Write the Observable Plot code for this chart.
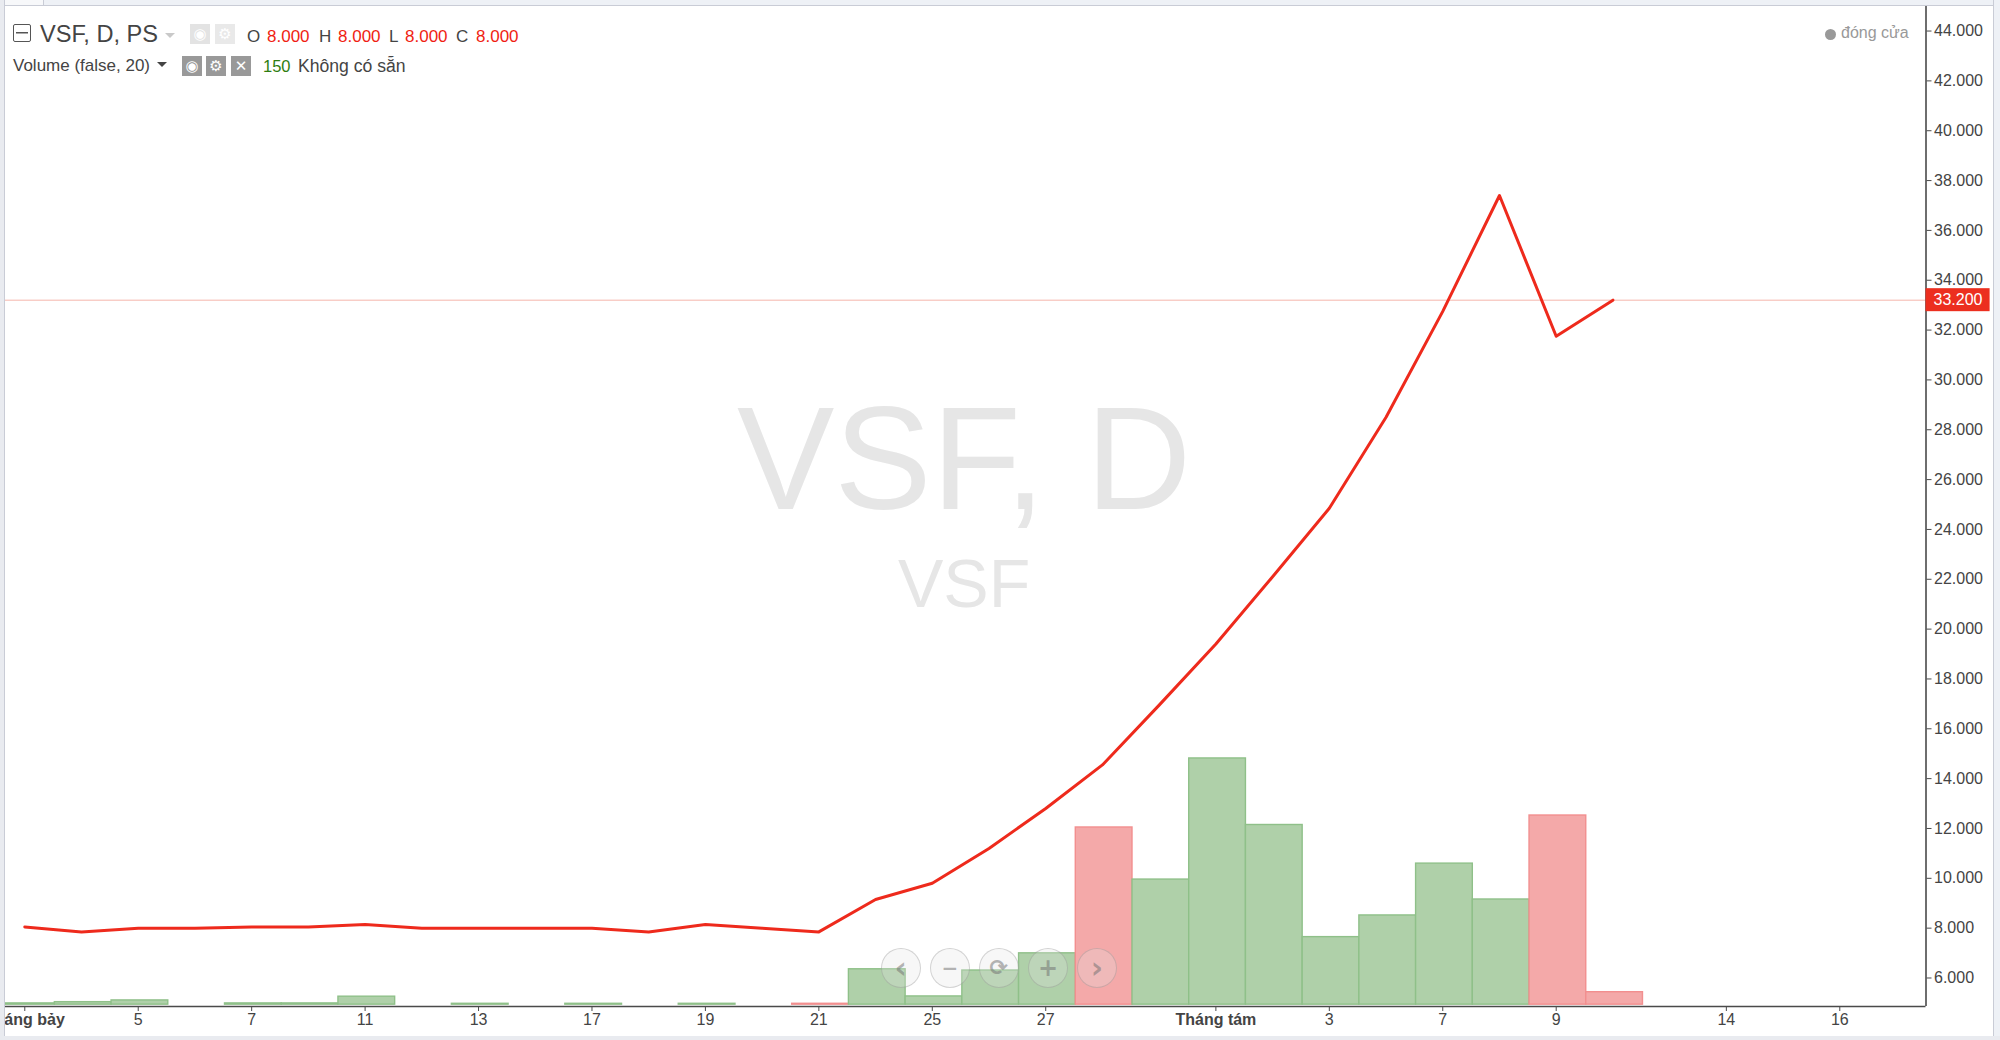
<!DOCTYPE html>
<html lang="vi">
<head>
<meta charset="utf-8">
<script src="https://cdn.jsdelivr.net/npm/d3@7"></script>
<script src="https://cdn.jsdelivr.net/npm/@observablehq/plot@0.6"></script>
<style>
html,body{margin:0;padding:0;background:#fff;overflow:hidden;width:2000px;height:1040px;font-family:"Liberation Sans",Arial,sans-serif}
#stage{position:relative;width:2000px;height:1040px;background:#fff;overflow:hidden}
#chart{position:absolute;left:0;top:0}
.o{position:absolute;white-space:nowrap;line-height:1;transform:translateY(-50%)}
.f{position:absolute}
.ic{position:absolute;display:flex;align-items:center;justify-content:center;color:#fff;font-family:"DejaVu Sans";font-size:15px;line-height:1}
.nav{position:absolute;width:38px;height:38px;border-radius:50%;border:1.5px solid rgba(120,120,120,.28);background:rgba(225,225,225,.28);color:rgba(110,110,110,.5);display:flex;align-items:center;justify-content:center;font-family:"DejaVu Sans";font-weight:bold;line-height:1;transform:translate(-50%,-50%)}
</style>
</head>
<body>
<div id="stage"><div id="chart"></div></div>
<script>
// Trading sessions, by position on the time axis
const sessions = d3.range(0, 29);
const closePrices = [8050,7850,8000,8000,8050,8050,8150,8000,8000,8000,8000,7850,8150,8000,7850,9150,9800,11200,12800,14550,16950,19400,22100,24850,28500,32750,37400,31750,33200];
// Volume bars: the level each bar top reaches on the right-hand axis (no volume axis is shown)
const volumeIndex = [0,1,2,4,5,6,8,10,12,14,15,16,17,18,19,20,21,22,23,24,25,26,27,28];
const volumeTop = [4980,5030,5100,4980,4980,5250,4965,4965,4965,4965,6350,5260,6300,6990,12040,9950,14810,12140,7640,8510,10590,9150,12520,5430];
const volumeDown = [14,19,27,28];
const volumeBase = 4930;
// Axis labels
const priceTicks = [6000,8000,10000,12000,14000,16000,18000,20000,22000,24000,26000,28000,30000,32000,34000,36000,38000,40000,42000,44000];
const dayTickIndex = [2,4,6,8,10,12,14,16,18,23,25,27,30,32];
const dayTickLabels = ["5","7","11","13","17","19","21","25","27","3","7","9","14","16"];
const monthTickIndex = [0,21];
const monthTickLabels = ["Tháng bảy","Tháng tám"];
const lastPrice = 33200;
const xDomain = [-0.34, 33.52];
const yDomain = [4856, 44985];

const bars = volumeIndex.map((s,k)=>({s, top:volumeTop[k], down:volumeDown.includes(s)}));
const line = sessions.map(s=>({s, c:closePrices[s]}));
const fmtPrice = v => d3.format(",.0f")(v).replace(",",".");
const lookup = (idx,lab) => v => lab[idx.indexOf(v)];
const axisCol = "#4a4a4a";

const plot = Plot.plot({
  width:2000, height:1040,
  marginLeft:5, marginRight:74.5, marginTop:6, marginBottom:34,
  style:{background:"transparent",fontFamily:"'Liberation Sans',Arial,sans-serif",fontSize:"16px",overflow:"hidden"},
  x:{domain:xDomain, range:[5,1925.5]},
  y:{domain:yDomain, range:[1006,6]},
  marks:[
    Plot.text(["VSF, D"],{x:[16.56],y:[26700],text:d=>d,fontSize:146,fill:"#e6e6e6",lineAnchor:"middle"}),
    Plot.text(["VSF"],{x:[16.56],y:[21750],text:d=>d,fontSize:68,fill:"#e6e6e6",lineAnchor:"middle"}),
    Plot.ruleY([lastPrice],{stroke:"#f5b5ab",strokeWidth:1}),
    Plot.rect(bars,{x1:d=>d.s-0.5,x2:d=>d.s+0.5,y1:volumeBase,y2:"top",dx:1.7,
      fill:d=>d.down?"#f4a9a9":"#afd0a9",
      stroke:d=>d.down?"#f28f8f":"#8fc089",strokeWidth:1.4}),
    Plot.line(line,{x:"s",y:"c",stroke:"#ee2a1c",strokeWidth:3,curve:"linear"}),
    Plot.ruleX([xDomain[1]],{stroke:axisCol,strokeWidth:1.6}),
    Plot.ruleY([yDomain[0]],{stroke:axisCol,strokeWidth:1.6}),
    Plot.axisY({anchor:"right",ticks:priceTicks,tickFormat:fmtPrice,tickSize:5,tickPadding:3,label:null,stroke:axisCol,fill:"#444",fontSize:16}),
    Plot.axisX({anchor:"bottom",ticks:dayTickIndex,tickFormat:lookup(dayTickIndex,dayTickLabels),tickSize:5,tickPadding:2,label:null,stroke:axisCol,fill:"#444",fontSize:16}),
    Plot.axisX({anchor:"bottom",ticks:monthTickIndex,tickFormat:lookup(monthTickIndex,monthTickLabels),tickSize:5,tickPadding:2,label:null,stroke:axisCol,fill:"#444",fontSize:16,fontWeight:"bold"}),
    Plot.rect([lastPrice],{x1:xDomain[1],x2:34.65,y1:d=>d,y2:d=>d,insetTop:-11.5,insetBottom:-11.5,fill:"#ec2f1f"}),
    Plot.text([lastPrice],{x:xDomain[1],y:d=>d,text:fmtPrice,dx:7.5,textAnchor:"start",fill:"#fff",fontSize:16})
  ]
});
document.getElementById("chart").appendChild(plot);

// Overlaid chrome: header lines, legend, navigation buttons and page frame
const stage = document.getElementById("stage");
function t(x,y,s,size,color,extra){const e=document.createElement("div");e.className="o";e.style.cssText=`left:${x}px;top:${y}px;font-size:${size}px;color:${color};${extra||""}`;e.textContent=s;stage.appendChild(e);}
function box(x,y,w,h,css){const e=document.createElement("div");e.className="f";e.style.cssText=`left:${x}px;top:${y}px;width:${w}px;height:${h}px;${css}`;stage.appendChild(e);return e;}
function icon(x,y,g,bg,fg){const e=document.createElement("div");e.className="ic";e.style.cssText=`left:${x}px;top:${y}px;width:20px;height:20px;background:${bg};color:${fg};`;e.textContent=g;stage.appendChild(e);}
function caret(x,y,w,c){box(x,y,0,0,`border-left:${w/2}px solid transparent;border-right:${w/2}px solid transparent;border-top:${w/2}px solid ${c};`);}

// frame
box(0,0,2000,5,"background:#eef1f6;border-bottom:1.5px solid #c9ccd6");
box(0,0,43,5,"background:#f7f8fa;border-right:1px solid #c9ccd6;border-bottom:1.5px solid #c9ccd6");
box(0,0,4,1040,"background:#e9ebf0;border-right:1px solid #c9ccd6");
box(1993,0,7,1040,"background:#eef1f6;border-left:1.5px solid #c9ccd6");
box(0,1036,2000,4,"background:#e9ebf0");

// first header line
box(13,24,18,18,"box-sizing:border-box;border:1.5px solid #555;border-radius:2px;background:linear-gradient(#555,#555) center/12px 1.5px no-repeat");
t(40,35,"VSF, D, PS",23.6,"#444");
caret(165,33,10,"#c9c9c9");
icon(190,24,"◉","#e3e3e3","#fff");
icon(215,24,"⚙","#e9e9e9","#fff");
t(247,36,"O",17,"#444"); t(267,36,"8.000",17,"#f01e12");
t(319,36,"H",17,"#444"); t(338,36,"8.000",17,"#f01e12");
t(389,36,"L",17,"#444"); t(405,36,"8.000",17,"#f01e12");
t(456,36,"C",17,"#444"); t(476,36,"8.000",17,"#f01e12");

// second header line
t(13,65,"Volume (false, 20)",17,"#444");
caret(157,62,10,"#444");
icon(182,56,"◉","#999","#fff");
icon(206,56,"⚙","#999","#fff");
icon(231,56,"✕","#999","#fff");
t(263,66,"150",16.5,"#2e7d10");
t(298,67,"Không có sẵn",17.6,"#444");

// legend
box(1824.5,28.5,11,11,"border-radius:50%;background:#999");
t(1841,33,"đóng cửa",16,"#999");

// navigation buttons
[[900.7,"‹",30],[950,"−",20],[998.7,"⟳",22],[1048,"+",24],[1097,"›",30]].forEach(([x,g,s])=>{
  const e=document.createElement("div");e.className="nav";e.style.left=x+"px";e.style.top="968px";e.style.fontSize=s+"px";e.textContent=g;stage.appendChild(e);
});
</script>
</body>
</html>
